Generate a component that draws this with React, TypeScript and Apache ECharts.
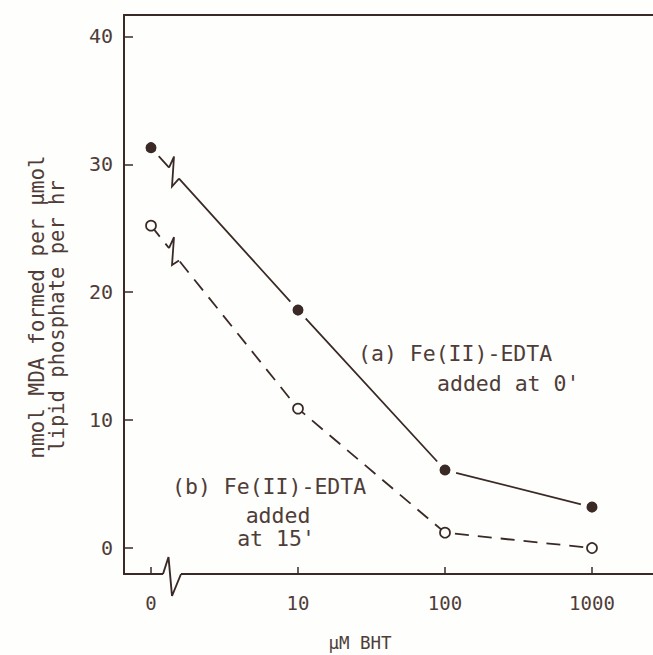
import React, { useEffect, useRef } from "react";
import * as echarts from "echarts";

// ---- data ----
const concentrations = [0, 10, 100, 1000]; // μM BHT
const tickLabels = ["0", "10", "100", "1000"];
const seriesA = [31.3, 18.6, 6.1, 3.2]; // (a) Fe(II)-EDTA added at 0'
const seriesB = [25.2, 10.9, 1.2, 0.0]; // (b) Fe(II)-EDTA added at 15'
const yTicks = [0, 10, 20, 30, 40];
const yTitleLines = ["nmol MDA formed per μmol", "lipid phosphate per hr"];
const xTitle = "μM BHT";
const labelA = ["(a) Fe(II)-EDTA", "added at 0'"];
const labelB = ["(b) Fe(II)-EDTA", "added", "at 15'"];

// broken log axis: "0" is drawn one decade to the left of 10
const toPos = (c: number) => (c === 0 ? 0 : Math.log10(c));
const xTicks = concentrations.map(toPos);

const INK = "#3a2925";
const TEXT = "#4f3d38";
const FONT = "'DejaVu Sans Mono', monospace";
const BG = "#fefefd";

const X_MIN = -0.1837;
const X_MAX = 3.415;
const Y_MIN = -2.03;
const Y_MAX = 41.67;

export default function App() {
  const ref = useRef<HTMLDivElement>(null);

  useEffect(() => {
    if (!ref.current) return;
    const chart = echarts.init(ref.current, undefined, { renderer: "svg" });

    const xLabel = (v: number) => {
      for (let i = 0; i < xTicks.length; i++) {
        if (Math.abs(v - xTicks[i]) < 1e-6) return tickLabels[i];
      }
      return "";
    };

    const option: any = {
      animation: false,
      backgroundColor: BG,
      grid: { left: 124, right: 0, top: 15, bottom: 81 },
      xAxis: [
        {
          type: "value",
          min: X_MIN,
          max: X_MAX,
          position: "bottom",
          axisLine: { show: true, onZero: false, lineStyle: { color: INK, width: 2 } },
          axisTick: {
            show: true,
            inside: true,
            length: 7,
            customValues: xTicks,
            lineStyle: { color: INK, width: 1.5 },
          },
          axisLabel: {
            show: true,
            customValues: xTicks,
            formatter: xLabel,
            margin: 19,
            color: TEXT,
            fontFamily: FONT,
            fontSize: 19,
          },
          splitLine: { show: false },
        },
        {
          type: "value",
          min: X_MIN,
          max: X_MAX,
          position: "top",
          axisLine: { show: true, onZero: false, lineStyle: { color: INK, width: 2 } },
          axisTick: { show: false },
          axisLabel: { show: false },
          splitLine: { show: false },
        },
      ],
      yAxis: {
        type: "value",
        min: Y_MIN,
        max: Y_MAX,
        axisLine: { show: true, onZero: false, lineStyle: { color: INK, width: 2 } },
        axisTick: {
          show: true,
          inside: true,
          length: 9,
          customValues: yTicks,
          lineStyle: { color: INK, width: 1.5 },
        },
        axisLabel: {
          show: true,
          customValues: yTicks,
          margin: 11,
          color: TEXT,
          fontFamily: FONT,
          fontSize: 20,
        },
        splitLine: { show: false },
      },
      series: [
        {
          type: "line",
          name: "a",
          silent: true,
          xAxisIndex: 0,
          data: concentrations.map((c, i) => [toPos(c), seriesA[i]]),
          lineStyle: { color: INK, width: 1.8 },
          symbol: "circle",
          symbolSize: 17,
          itemStyle: { color: INK, borderColor: BG, borderWidth: 6 },
          z: 3,
        },
        {
          type: "line",
          name: "b",
          silent: true,
          xAxisIndex: 0,
          data: concentrations.map((c, i) => [toPos(c), seriesB[i]]),
          lineStyle: { color: INK, width: 1.8, type: [14, 9] },
          symbol: "circle",
          symbolSize: 10,
          itemStyle: { color: BG, borderColor: INK, borderWidth: 1.7 },
          z: 3,
        },
      ],
    };

    chart.setOption(option);

    const px = (x: number, y: number) =>
      chart.convertToPixel({ xAxisIndex: 0, yAxisIndex: 0 }, [x, y]) as number[];

    const graphics: any[] = [];

    // line breaks between "0" and "10"
    const lineBreak = (vals: number[], down: number) => {
      const p0 = px(toPos(concentrations[0]), vals[0]);
      const p1 = px(toPos(concentrations[1]), vals[1]);
      const slope = (p1[1] - p0[1]) / (p1[0] - p0[0]);
      const S = [p0[0] + 18, p0[1] + slope * 18];
      const E = [p0[0] + 28, p0[1] + slope * 28];
      graphics.push({
        type: "polyline",
        z: 100,
        silent: true,
        shape: { points: [S, E] },
        style: { stroke: BG, lineWidth: 6, fill: null },
      });
      graphics.push({
        type: "polyline",
        z: 101,
        silent: true,
        shape: {
          points: [S, [S[0] + 5, S[1] - 11], [S[0] + 3, S[1] + down], E],
        },
        style: { stroke: INK, lineWidth: 1.8, fill: null },
      });
    };
    lineBreak(seriesA, 19);
    lineBreak(seriesB, 17);

    // x-axis break
    const a0 = px(xTicks[0], Y_MIN);
    const AS = [a0[0] + 12, a0[1]];
    graphics.push({
      type: "polyline",
      z: 100,
      silent: true,
      shape: { points: [AS, [AS[0] + 18, AS[1]]] },
      style: { stroke: BG, lineWidth: 5, fill: null },
    });
    graphics.push({
      type: "polyline",
      z: 101,
      silent: true,
      shape: {
        points: [AS, [AS[0] + 5.5, AS[1] - 17], [AS[0] + 9, AS[1] + 22], [AS[0] + 18, AS[1]]],
      },
      style: { stroke: INK, lineWidth: 1.9, fill: null },
    });

    const txt = (
      text: string,
      x: number,
      y: number,
      size: number,
      align: string,
      rotation = 0
    ) => ({
      type: "text",
      z: 102,
      silent: true,
      x,
      y,
      rotation,
      style: {
        text,
        fill: TEXT,
        fontFamily: FONT,
        fontSize: size,
        align,
        verticalAlign: "middle",
      },
    });

    // y title (rotated)
    graphics.push(txt(yTitleLines[0], 37, 307, 21, "center", Math.PI / 2));
    graphics.push(txt(yTitleLines[1], 57, 316, 20.5, "center", Math.PI / 2));
    // x title
    graphics.push(txt(xTitle, 360, 643, 17.5, "center"));
    // annotations
    graphics.push(txt(labelA[0], 358, 353, 21.5, "left"));
    graphics.push(txt(labelA[1], 437, 383, 21.5, "left"));
    graphics.push(txt(labelB[0], 172, 486, 21.5, "left"));
    graphics.push(txt(labelB[1], 278, 515, 21.5, "center"));
    graphics.push(txt(labelB[2], 276, 538, 21.5, "center"));

    chart.setOption({ graphic: graphics });

    return () => chart.dispose();
  }, []);

  return (
    <div
      ref={ref}
      style={{
        position: "absolute",
        left: 0,
        top: 0,
        width: 653,
        height: 655,
        background: BG,
      }}
    />
  );
}
